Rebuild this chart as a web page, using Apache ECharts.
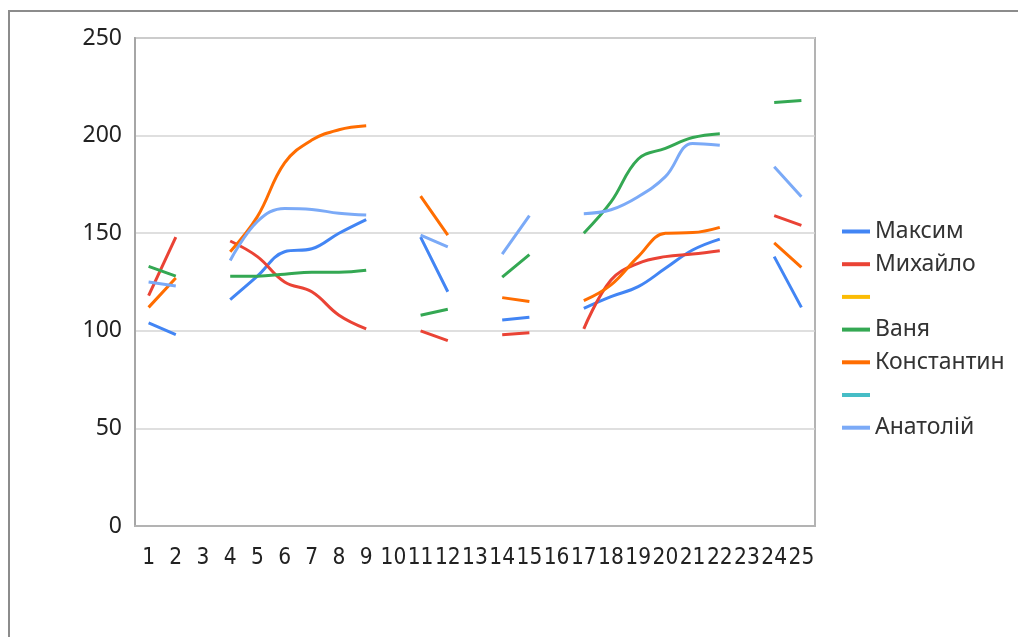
<!DOCTYPE html>
<html>
<head>
<meta charset="utf-8">
<script src="https://cdn.jsdelivr.net/npm/echarts@6/dist/echarts.min.js"></script>
<style>html,body{margin:0;padding:0;background:#fff;}#chart{width:1018px;height:637px;}</style>
</head>
<body>
<div id="chart"></div>
<script>
const categories = ['1','2','3','4','5','6','7','8','9','10','11','12','13','14','15','16','17','18','19','20','21','22','23','24','25'];
const yTicks = [0, 50, 100, 150, 200, 250];
const seriesNames = ['Максим', 'Михайло', ' ', 'Ваня', 'Константин', '  ', 'Анатолій'];
const seriesColors = ['#4285F4', '#EA4335', '#FBBC04', '#34A853', '#FF6D01', '#46BDC6', '#7BAAF7'];

const maksim     = [104, 98, null, 116, 128, 140.5, 142, 150, 157, null, 148, 120, null, 105.5, 107, null, 111.5, 117.5, 122.6, 132, 141.4, 147, null, 138, 112];
const mykhailo   = [118, 148, null, 146, 138, 125, 120, 108, 101, null, 100, 95, null, 98, 99, null, 101, 126, 134.6, 138, 139.3, 141, null, 159, 154];
const blank1     = [null, null, null, null, null, null, null, null, null, null, null, null, null, null, null, null, null, null, null, null, null, null, null, null, null];
const vanya      = [133, 128, null, 128, 128, 129, 130, 130, 131, null, 108, 111, null, 127.5, 139, null, 150, 166, 188, 193.5, 199, 201, null, 217, 218];
const kostiantyn = [112, 127, null, 140.5, 158.5, 186, 197.7, 203, 205, null, 169, 149, null, 117, 115, null, 115.4, 123.5, 138, 150, 150.3, 153, null, 145, 132.5];
const blank2     = [null, null, null, null, null, null, null, null, null, null, null, null, null, null, null, null, null, null, null, null, null, null, null, null, null];
const anatolii   = [125, 123, null, 136, 156, 162.7, 162.2, 160.2, 159.3, null, 149, 143, null, 139.3, 159, null, 160, 162, 168.7, 179, 196, 195, null, 184, 168.7];

const allData = [maksim, mykhailo, blank1, vanya, kostiantyn, blank2, anatolii];

const chart = echarts.init(document.getElementById('chart'), null, {renderer: 'canvas'});
chart.setOption({
  animation: false,
  backgroundColor: '#ffffff',
  color: seriesColors,
  graphic: [{
    type: 'polyline',
    shape: {points: [[9, 637], [9, 11], [1018, 11]]},
    style: {stroke: '#8c8c8c', lineWidth: 2, fill: null},
    silent: true
  }],
  grid: {
    left: 135, right: 203, top: 38, bottom: 111,
    show: true, borderColor: '#b3b3b3', borderWidth: 2, backgroundColor: 'transparent'
  },
  legend: {
    orient: 'vertical',
    left: 842,
    top: 220,
    padding: 0,
    icon: 'rect',
    itemWidth: 28,
    itemHeight: 4,
    itemGap: 9.7,
    data: seriesNames,
    textStyle: {fontFamily: 'Noto Sans', fontSize: 23, lineHeight: 23, color: '#333333'}
  },
  xAxis: {
    type: 'category',
    data: categories,
    boundaryGap: true,
    axisLine: {show: true, lineStyle: {color: '#b3b3b3', width: 2}},
    axisTick: {show: false},
    splitLine: {show: false},
    axisLabel: {interval: 0, margin: 21, fontFamily: "'Liberation Sans Narrow', 'DejaVu Sans Condensed', sans-serif", fontSize: 22.5, color: '#222222'}
  },
  yAxis: {
    type: 'value',
    min: yTicks[0],
    max: yTicks[yTicks.length - 1],
    interval: 50,
    axisLine: {show: true, lineStyle: {color: '#a6a6a6', width: 2}},
    axisTick: {show: false},
    splitLine: {show: true, lineStyle: {color: '#d4d4d4', width: 1.5}},
    axisLabel: {margin: 13, fontFamily: 'Noto Sans', fontSize: 23, color: '#222222'}
  },
  series: seriesNames.map((name, i) => ({
    name: name,
    type: 'line',
    data: allData[i],
    smooth: 0.4,
    connectNulls: false,
    showSymbol: false,
    symbol: 'none',
    lineStyle: {width: 3, color: seriesColors[i]},
    itemStyle: {color: seriesColors[i]}
  }))
});
</script>
</body>
</html>
